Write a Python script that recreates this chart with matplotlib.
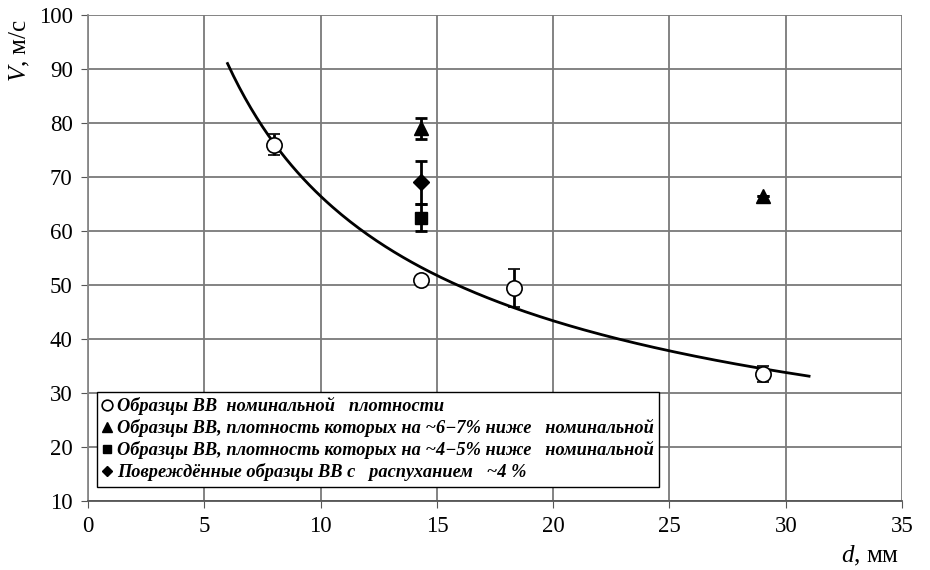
import matplotlib
matplotlib.use('Agg')
import matplotlib.pyplot as plt
import numpy as np

plt.rcParams['font.family'] = ['Liberation Serif', 'DejaVu Serif']
plt.rcParams['mathtext.fontset'] = 'custom'
plt.rcParams['mathtext.rm'] = 'Liberation Serif'
plt.rcParams['mathtext.it'] = 'Liberation Serif:italic'

# nominal density samples
d_nom = [8.0, 14.3, 18.3, 29.0]
v_nom = [76.0, 51.0, 49.5, 33.5]
err_nom_lo = [2.0, 0.0, 3.5, 1.5]
err_nom_hi = [2.0, 0.0, 3.5, 1.5]

# density 6-7% below nominal
d_tri = [14.3, 29.0]
v_tri = [79.0, 66.5]
err_tri = [2.0, 0.0]

# density 4-5% below nominal
d_sq = [14.3]
v_sq = [62.5]
err_sq = [2.5]

# damaged, swelling ~4%
d_dia = [14.3]
v_dia = [69.0]
err_dia = [4.0]

labels = ['Образцы ВВ  номинальной   плотности',
          'Образцы ВВ, плотность которых на ~6\u22127% ниже   номинальной',
          'Образцы ВВ, плотность которых на ~4\u22125% ниже   номинальной',
          'Повреждённые образцы ВВ с   распуханием   ~4 %']

fig = plt.figure(figsize=(9.3, 5.7), dpi=100)
ax = fig.add_axes([0.0946, 0.121, 0.8754, 0.8527])

# power trendline fitted on nominal samples
b, ln_a = np.polyfit(np.log(d_nom), np.log(v_nom), 1)
xs = np.linspace(6, 31, 200)
ax.plot(xs, np.exp(ln_a) * xs ** b, color='black', lw=2, zorder=3)

ekw = dict(ecolor='black', elinewidth=2, capsize=4, capthick=2, ls='none', zorder=4)
h1 = ax.errorbar(d_nom, v_nom, yerr=[err_nom_lo, err_nom_hi], fmt='o', ms=11,
                 mfc='white', mec='black', mew=1.2, **ekw)
h2 = ax.errorbar(d_tri, v_tri, yerr=err_tri, fmt='^', ms=10, mfc='black', mec='black', **ekw)
h3 = ax.errorbar(d_sq, v_sq, yerr=err_sq, fmt='s', ms=9, mfc='black', mec='black', **ekw)
h4 = ax.errorbar(d_dia, v_dia, yerr=err_dia, fmt='D', ms=8, mfc='black', mec='black', **ekw)

ax.set_xlim(0, 35)
ax.set_ylim(10, 100)
ax.set_xticks(np.arange(0, 36, 5))
ax.set_yticks(np.arange(10, 101, 10))
ax.grid(True, color='#7a7a7a', lw=1.3)
ax.set_axisbelow(True)
ax.tick_params(labelsize=16.5, direction='out', length=5, color='#555555', pad=6)
for s in ['top', 'right']:
    ax.spines[s].set_visible(False)
ax.spines['left'].set_color('#888888')
ax.spines['left'].set_linewidth(1.3)
ax.spines['bottom'].set_color('#555555')
ax.spines['bottom'].set_linewidth(1.3)

leg = ax.legend([h1[0], h2[0], h3[0], h4[0]], labels, loc='lower left',
                bbox_to_anchor=(0.011, 0.029), borderaxespad=0, fancybox=False,
                framealpha=1, edgecolor='black', handlelength=0.5, handletextpad=0.3,
                borderpad=0.3, labelspacing=0.22, markerscale=0.7,
                prop={'style': 'italic', 'weight': 'bold', 'size': 13.2})
leg.get_frame().set_linewidth(1.0)

fig.text(0.021, 0.912, r'$V$, м/с', rotation=90, fontsize=18, ha='center', va='center')
fig.text(0.935, 0.025, r'$d$, мм', fontsize=18, ha='center', va='center')

fig.savefig('out.png', dpi=100)
